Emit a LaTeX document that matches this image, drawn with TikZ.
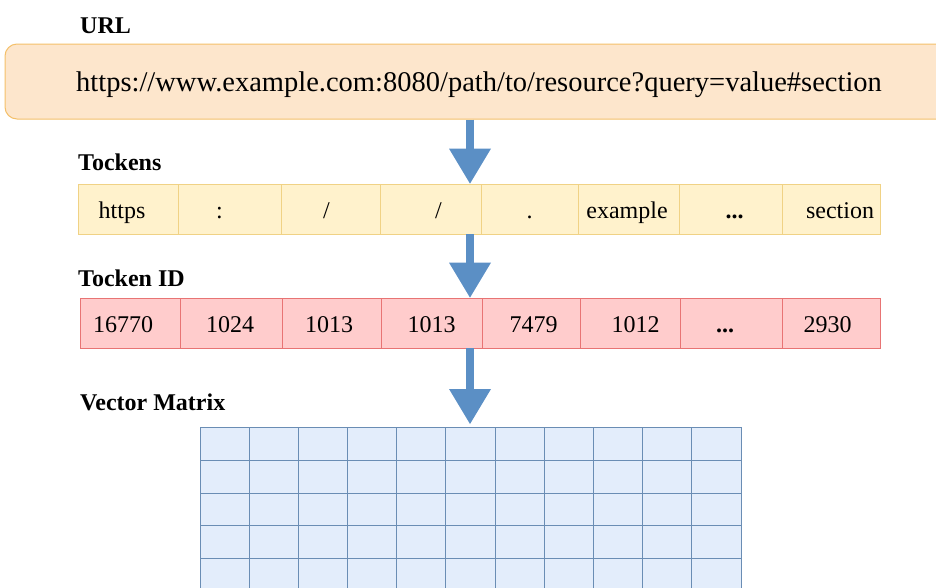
\documentclass[tikz,border=0pt]{standalone}
\usepackage{fontspec}
\setmainfont{Liberation Serif}
\usetikzlibrary{arrows.meta}
\definecolor{urlfill}{HTML}{FDE6CC}
\definecolor{urldraw}{HTML}{F4C06A}
\definecolor{tokfill}{HTML}{FFF2CC}
\definecolor{tokdraw}{HTML}{F0D285}
\definecolor{idfill}{HTML}{FFCCCC}
\definecolor{iddraw}{HTML}{E87474}
\definecolor{vecfill}{HTML}{E3EDFB}
\definecolor{vecdraw}{HTML}{6A8DB4}
\definecolor{flowblue}{HTML}{5B8FC5}
% move a cell's text sideways without changing its box width
\newcommand\nudge[2]{\hspace*{#1}#2\hspace*{-#1}}
\begin{document}
\begin{tikzpicture}[x=1pt,y=-1pt,
  lbl/.style={font=\fontsize{24}{28}\selectfont\bfseries, anchor=base west, inner sep=0pt},
  urlbox/.style={draw=urldraw, fill=urlfill, line width=1pt, rounded corners=12pt,
    minimum width=948pt, minimum height=75pt, inner sep=0pt,
    text height=20pt, text depth=0pt, font=\fontsize{28.5}{32}\selectfont},
  cell/.style={line width=0.8pt, minimum height=50pt, inner sep=0pt,
    text height=18pt, text depth=0pt, font=\fontsize{24}{28}\selectfont},
  tokcell/.style={cell, draw=tokdraw, fill=tokfill},
  idcell/.style={cell, draw=iddraw, fill=idfill},
  flow/.style={draw=flowblue, line width=8pt,
    -{Triangle[width=42pt,length=35pt,line width=0pt]}},
  gridline/.style={draw=vecdraw, line width=0.9pt}
]
\clip (0,0) rectangle (936,587);

% section labels
\node[lbl] (lurl) at (80,33) {URL};
\node[lbl] (ltok) at (78,170) {Tockens};
\node[lbl] (lid)  at (78,286) {Tocken ID};
\node[lbl] (lvec) at (80,410) {Vector Matrix};

% the input URL
\node[urlbox] (url) at (479,81.5) {https://www.example.com:8080/path/to/resource?query=value\#section};

% token row
\node[tokcell, minimum width=100pt] (t1) at (128,209) {\nudge{-6pt}{https}};
\node[tokcell, minimum width=103pt] (t2) at (229.5,209) {\nudge{-10pt}{:}};
\node[tokcell, minimum width=99pt]  (t3) at (330.5,209) {\nudge{-4pt}{/}};
\node[tokcell, minimum width=101pt] (t4) at (430.5,209) {\nudge{8pt}{/}};
\node[tokcell, minimum width=97pt]  (t5) at (529.5,209) {.};
\node[tokcell, minimum width=101pt] (t6) at (629,209) {\nudge{-2pt}{example}};
\node[tokcell, minimum width=103pt] (t7) at (730.5,209) {\nudge{4pt}{\bfseries ...}};
\node[tokcell, minimum width=98pt]  (t8) at (831,209) {\nudge{9pt}{section}};

% token id row
\node[idcell, minimum width=100pt] (i1) at (130,323) {\nudge{-7pt}{16770}};
\node[idcell, minimum width=102pt] (i2) at (231,323) {\nudge{-1pt}{1024}};
\node[idcell, minimum width=99pt]  (i3) at (331.5,323) {\nudge{-2.5pt}{1013}};
\node[idcell, minimum width=101pt] (i4) at (431.5,323) {1013};
\node[idcell, minimum width=98pt]  (i5) at (531,323) {\nudge{2.5pt}{7479}};
\node[idcell, minimum width=100pt] (i6) at (630,323) {\nudge{5.5pt}{1012}};
\node[idcell, minimum width=102pt] (i7) at (731,323) {\nudge{-6pt}{\bfseries ...}};
\node[idcell, minimum width=98pt]  (i8) at (831,323) {\nudge{-3.5pt}{2930}};

% vector matrix (continues past the lower edge)
\node[fill=vecfill, draw=none, minimum width=541pt, minimum height=170pt,
  inner sep=0pt, anchor=north west] (vm) at (200,427) {};
\foreach \k in {0,...,11}
  \draw[gridline] ({200+\k*49.18},427) -- ({200+\k*49.18},597);
\foreach \r in {427,460.5,493,525.5,558,590.5}
  \draw[gridline] (200,\r) -- (741,\r);

% flow arrows
\coordinate (ax) at (470,0);
\draw[flow] (url.south -| ax) -- (t4.north -| ax);
\draw[flow] (t4.south -| ax) -- (i4.north -| ax);
\draw[flow, shorten >=3pt] (i4.south -| ax) -- (vm.north -| ax);
\end{tikzpicture}
\end{document}
